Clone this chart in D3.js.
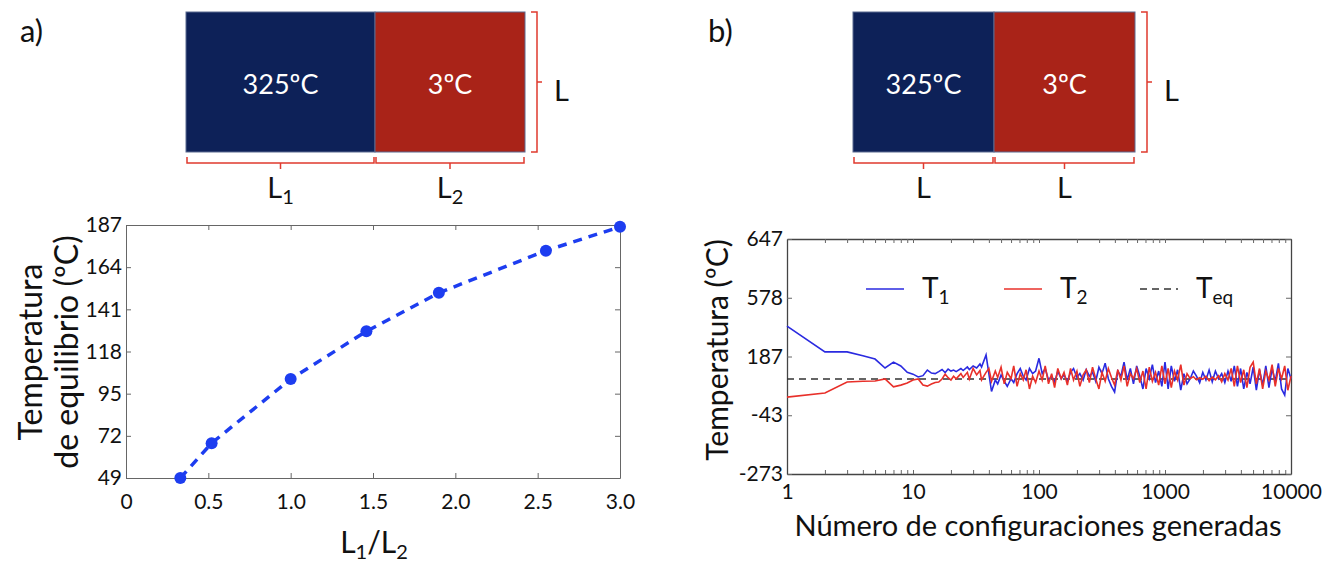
<!DOCTYPE html>
<html>
<head>
<meta charset="utf-8">
<script src="https://cdn.jsdelivr.net/npm/d3@7"></script>
<style>
  body { margin: 0; background: #fff; }
  svg { font-family: Lato, "Open Sans", sans-serif; }
</style>
</head>
<body>
<svg id="fig"></svg>
<script>
// panel a) equilibrium temperature vs L1/L2
let ratio = [0.33, 0.52, 1.0, 1.46, 1.9, 2.55, 3.0];
let tEquil = [49, 68, 103, 129, 150, 173, 186];
let aYTicks = [49, 72, 95, 118, 141, 164, 187];
let aXTicks = [0, 0.5, 1.0, 1.5, 2.0, 2.5, 3.0];

// panel b) temperature vs number of generated configurations
let configs = [1, 2, 3, 4, 5, 6, 7, 8, 9,
    10, 11, 12, 13, 14, 15, 16, 17, 18, 19, 20, 21, 22, 24, 25, 27, 28, 30, 32, 34, 35, 38, 40, 42, 45, 47, 50, 53, 56, 60, 63, 67, 71, 75, 79, 84, 89, 94,
    100, 106, 112, 119, 126, 133, 141, 150, 158, 168, 178, 188, 200, 211, 224, 237, 251, 266, 282, 299, 316, 335, 355, 376, 398, 422, 447, 473, 501, 531, 562, 596, 631, 668, 708, 750, 794, 841, 891, 944,
    1000, 1059, 1122, 1189, 1259, 1334, 1413, 1496, 1585, 1679, 1778, 1884, 1995, 2113, 2239, 2371, 2512, 2661, 2818, 2985, 3162, 3350, 3548, 3758, 3981, 4217, 4467, 4732, 5012, 5309, 5623, 5957, 6310, 6683, 7079, 7499, 7943, 8414, 8913, 9441, 10000];
let t1 = [306, 205, 205, 190, 177, 142, 165, 150, 125,
    118, 107, 112, 134, 122, 120, 128, 136, 124, 138, 130, 134, 128, 140, 132, 146, 136, 150, 142, 158, 146, 193, 120, 50, 95, 80, 115, 90, 70, 100, 85, 120, 140, 110, 95, 140, 120, 130,
    180, 120, 140, 95, 110, 85, 130, 100, 115, 90, 125, 140, 105, 120, 95, 135, 110, 125, 90, 145, 120, 161, 100, 70, 48, 130, 110, 165, 95, 140, 80, 150, 110, 60, 140, 100, 155, 85, 130, 70,
    165, 60, 150, 90, 135, 55, 120, 80, 100, 130, 110, 84, 125, 95, 134, 88, 130, 100, 120, 85, 130, 90, 150, 70, 140, 60, 125, 80, 145, 55, 135, 75, 150, 65, 140, 90, 160, 60, 36, 140, 100];
let t2 = [28, 44, 87, 90, 91, 99, 68, 75, 83,
    95, 99, 75, 71, 79, 85, 87, 99, 118, 104, 95, 110, 100, 120, 105, 125, 98, 140, 115, 132, 95, 125, 140, 90, 130, 105, 145, 80, 125, 100, 150, 70, 120, 95, 135, 60, 110, 85,
    130, 95, 150, 80, 120, 65, 140, 100, 125, 75, 140, 95, 130, 70, 115, 135, 85, 145, 100, 60, 125, 90, 140, 105, 75, 135, 95, 150, 70, 120, 100, 140, 85, 130, 60, 145, 90, 125, 75, 150,
    80, 140, 65, 130, 95, 155, 75, 120, 100, 108, 96, 104, 98, 110, 92, 106, 96, 112, 88, 120, 95, 140, 70, 150, 85, 135, 65, 145, 165, 80, 140, 60, 130, 95, 155, 70, 140, 100, 150, 55, 110];
let tEq = 99;
let bYTicks = [-273, -43, 187, 417, 647];
let bYLabels = ["-273", "-43", "187", "578", "647"];
let bXMajor = [1, 10, 100, 1000, 10000];

let svg = d3.select('#fig').attr('width', 1338).attr('height', 562);
let ink = '#111';

// ---------- schematic boxes ----------
function drawBoxes(x0, xm, x1, bottomLabels) {
    let g = svg.append('g');
    let top = 12, bot = 152;
    g.append('rect').attr('x', x0).attr('y', top).attr('width', xm - x0).attr('height', bot - top)
        .attr('fill', '#0d2158').attr('stroke', '#5a6a90').attr('stroke-width', 1);
    g.append('rect').attr('x', xm).attr('y', top).attr('width', x1 - xm).attr('height', bot - top)
        .attr('fill', '#a92318').attr('stroke', '#5a6a90').attr('stroke-width', 1);
    g.append('text').attr('x', (x0 + xm) / 2).attr('y', 94).attr('text-anchor', 'middle')
        .attr('fill', '#fff').attr('font-size', 27).text('325ºC');
    g.append('text').attr('x', (xm + x1) / 2).attr('y', 94).attr('text-anchor', 'middle')
        .attr('fill', '#fff').attr('font-size', 27).text('3ºC');

    let red = '#e03a2e';
    // bottom braces
    [[x0 + 1, xm - 1], [xm + 1, x1 - 1]].forEach(function (s, i) {
        let y = 163, c = (s[0] + s[1]) / 2;
        g.append('path')
            .attr('d', `M${s[0]},${y - 6}L${s[0]},${y}L${s[1]},${y}L${s[1]},${y - 6}M${c},${y}L${c},${y + 6}`)
            .attr('fill', 'none').attr('stroke', red).attr('stroke-width', 1.5);
        let t = g.append('text').attr('x', c).attr('y', 198).attr('text-anchor', 'middle')
            .attr('font-size', 29).attr('fill', ink);
        t.append('tspan').text(bottomLabels[i][0]);
        if (bottomLabels[i][1]) {
            t.append('tspan').attr('dy', 6).attr('font-size', 20).text(bottomLabels[i][1]);
        }
    });
    // right brace
    let bx = x1 + 12, mid = (top + bot) / 2;
    g.append('path')
        .attr('d', `M${bx - 6},${top}L${bx},${top}L${bx},${bot}L${bx - 6},${bot}M${bx},${mid}L${bx + 5},${mid}`)
        .attr('fill', 'none').attr('stroke', red).attr('stroke-width', 1.5);
    g.append('text').attr('x', bx + 17).attr('y', 101).attr('font-size', 29).attr('fill', ink).text('L');
}

drawBoxes(186, 375, 525, [['L', '1'], ['L', '2']]);
drawBoxes(853, 994, 1135, [['L', ''], ['L', '']]);

svg.append('text').attr('x', 20).attr('y', 42).attr('font-size', 31).attr('fill', ink).text('a)');
svg.append('text').attr('x', 708).attr('y', 42).attr('font-size', 31).attr('fill', ink).text('b)');

// ---------- panel a chart ----------
let ax = d3.scaleLinear().domain([0, 3]).range([126, 620]);
let ay = d3.scaleLinear().domain([49, 187]).range([478, 225]);
let frame = '#666';

let ga = svg.append('g');
ga.append('g').attr('transform', 'translate(0,478)')
    .call(d3.axisBottom(ax).tickValues(aXTicks).tickSizeInner(-5).tickSizeOuter(0).tickPadding(16)
        .tickFormat((d, i) => i === 0 ? '0' : d3.format('.1f')(d)));
ga.append('g').attr('transform', 'translate(0,225)')
    .call(d3.axisTop(ax).tickValues(aXTicks).tickSizeInner(-5).tickSizeOuter(0).tickFormat(''));
ga.append('g').attr('transform', 'translate(126,0)')
    .call(d3.axisLeft(ay).tickValues(aYTicks).tickSizeInner(-5).tickSizeOuter(0).tickPadding(4));
ga.append('g').attr('transform', 'translate(620,0)')
    .call(d3.axisRight(ay).tickValues(aYTicks).tickSizeInner(-5).tickSizeOuter(0).tickFormat(''));
ga.selectAll('.domain').attr('stroke', frame);
ga.selectAll('.tick line').attr('stroke', frame);
ga.selectAll('.tick text').attr('font-size', 21).attr('fill', ink).attr('font-family', 'Lato, sans-serif');

let aPts = ratio.map((r, i) => [r, tEquil[i]]);
ga.append('path').datum(aPts)
    .attr('d', d3.line().x(d => ax(d[0])).y(d => ay(d[1])))
    .attr('fill', 'none').attr('stroke', '#1d3df0').attr('stroke-width', 3.5).attr('stroke-dasharray', '9,7');
ga.selectAll('circle').data(aPts).enter().append('circle')
    .attr('cx', d => ax(d[0])).attr('cy', d => ay(d[1])).attr('r', 6).attr('fill', '#1d3df0');

let aT = svg.append('text').attr('x', 374).attr('y', 553).attr('text-anchor', 'middle')
    .attr('font-size', 30).attr('fill', ink);
aT.append('tspan').text('L');
aT.append('tspan').attr('dy', 6).attr('font-size', 20).text('1');
aT.append('tspan').attr('dy', -6).text('/L');
aT.append('tspan').attr('dy', 6).attr('font-size', 20).text('2');

svg.append('text').attr('transform', 'translate(42,352) rotate(-90)').attr('text-anchor', 'middle')
    .attr('font-size', 32).attr('fill', ink).text('Temperatura');
svg.append('text').attr('transform', 'translate(78,352) rotate(-90)').attr('text-anchor', 'middle')
    .attr('font-size', 32).attr('fill', ink).text('de equilibrio (ºC)');

// ---------- panel b chart ----------
let bx = d3.scaleLog().domain([1, 10000]).range([787, 1291]);
let by = d3.scaleLinear().domain([-273, 647]).range([474, 239]);

let gb = svg.append('g');
let minor = bx.ticks();
let isMajor = d => bXMajor.indexOf(d) >= 0;
gb.append('g').attr('transform', 'translate(0,474)')
    .call(d3.axisBottom(bx).tickValues(minor).tickSizeInner(-4).tickSizeOuter(0).tickPadding(10)
        .tickFormat(d => isMajor(d) ? d3.format('d')(d) : ''));
gb.append('g').attr('transform', 'translate(0,239)')
    .call(d3.axisTop(bx).tickValues(minor).tickSizeInner(-4).tickSizeOuter(0).tickFormat(''));
gb.append('g').attr('transform', 'translate(787,0)')
    .call(d3.axisLeft(by).tickValues(bYTicks).tickSizeInner(-5).tickSizeOuter(0).tickPadding(4)
        .tickFormat((d, i) => bYLabels[i]));
gb.append('g').attr('transform', 'translate(1291,0)')
    .call(d3.axisRight(by).tickValues(bYTicks).tickSizeInner(-5).tickSizeOuter(0).tickFormat(''));
gb.selectAll('.domain').attr('stroke', '#444').attr('stroke-width', 1.3);
gb.selectAll('.tick line').attr('stroke', '#666');
gb.selectAll('.tick text').attr('font-size', 21).attr('fill', ink).attr('font-family', 'Lato, sans-serif');

let bLine = d3.line().x(d => bx(d[0])).y(d => by(d[1]));
gb.append('line').attr('x1', bx(1)).attr('x2', bx(10000)).attr('y1', by(tEq)).attr('y2', by(tEq))
    .attr('stroke', '#333').attr('stroke-width', 1.6).attr('stroke-dasharray', '7,5');
gb.append('path').datum(configs.map((c, i) => [c, t1[i]]))
    .attr('d', bLine).attr('fill', 'none').attr('stroke', '#2a2ae0').attr('stroke-width', 1.6);
gb.append('path').datum(configs.map((c, i) => [c, t2[i]]))
    .attr('d', bLine).attr('fill', 'none').attr('stroke', '#e8302a').attr('stroke-width', 1.6);

// legend
let legend = [
    { name: 'T', sub: '1', color: '#2a2ae0', dash: null, x: 866 },
    { name: 'T', sub: '2', color: '#e8302a', dash: null, x: 1004 },
    { name: 'T', sub: 'eq', color: '#333', dash: '7,5', x: 1140 },
];
legend.forEach(function (d) {
    gb.append('line').attr('x1', d.x).attr('x2', d.x + 38).attr('y1', 289).attr('y2', 289)
        .attr('stroke', d.color).attr('stroke-width', 1.6).attr('stroke-dasharray', d.dash);
    let t = gb.append('text').attr('x', d.x + 56).attr('y', 298).attr('font-size', 28).attr('fill', ink);
    t.append('tspan').text(d.name);
    t.append('tspan').attr('dy', 6).attr('font-size', 19).text(d.sub);
});

svg.append('text').attr('x', 1038).attr('y', 536).attr('text-anchor', 'middle')
    .attr('font-size', 29).attr('fill', ink).text('Número de configuraciones generadas');
svg.append('text').attr('transform', 'translate(728,350) rotate(-90)').attr('text-anchor', 'middle')
    .attr('font-size', 30).attr('fill', ink).text('Temperatura (ºC)');
</script>
</body>
</html>
